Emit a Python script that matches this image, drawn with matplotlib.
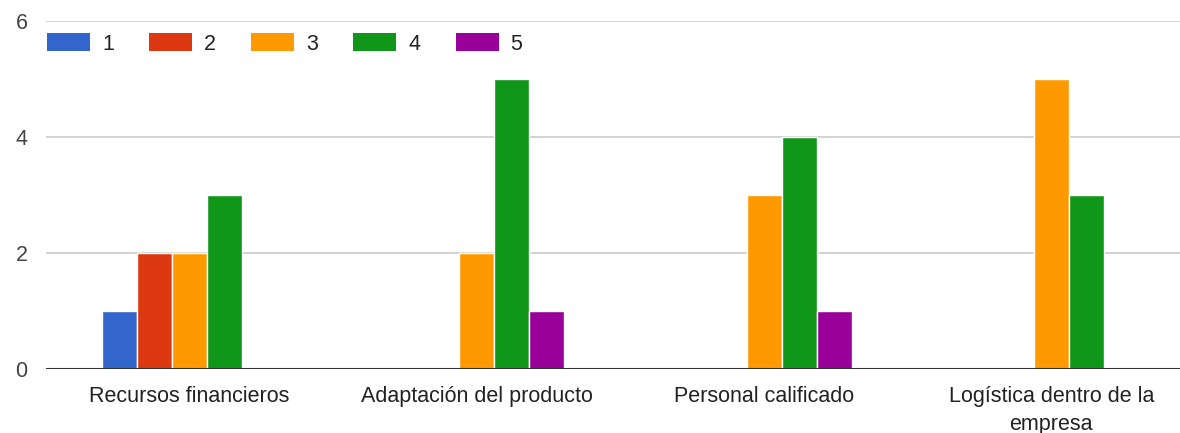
import numpy as np
import matplotlib.pyplot as plt
from matplotlib.patches import Patch

plt.rcParams['font.family'] = ['Liberation Sans', 'DejaVu Sans']

# respuestas por factor (escala 1-5)
categorias = ["Recursos financieros", "Adaptación del producto",
              "Personal calificado", "Logística dentro de la\nempresa"]
niveles = ["1", "2", "3", "4", "5"]
conteos = {
    "1": [1, 0, 0, 0],
    "2": [2, 0, 0, 0],
    "3": [2, 2, 3, 5],
    "4": [3, 5, 4, 3],
    "5": [0, 1, 1, 0],
}
colores = ["#3366cc", "#dc3912", "#ff9900", "#109618", "#990099"]

W, H = 1180, 433
fs = 15.5
fig = plt.figure(figsize=(W / 100, H / 100), dpi=100)
# plot area runs a little past the right edge
ax = fig.add_axes([46 / W, 64 / H, 1149 / W, 348 / H])

x = np.arange(len(categorias))
ancho = 0.122
for i, (nivel, color) in enumerate(zip(niveles, colores)):
    vals = np.array(conteos[nivel])
    pos = x + (i - 2) * ancho
    mask = vals > 0
    ax.bar(pos[mask], vals[mask], width=ancho, color=color,
           edgecolor="white", linewidth=1, zorder=3)

ax.set_xlim(-0.5, len(categorias) - 0.5)
ax.set_ylim(0, 6)
ax.set_yticks([0, 2, 4, 6])
ax.grid(axis="y", color="#cccccc", linewidth=1.2, zorder=0)
ax.axhline(0, color="#333333", linewidth=1.5, zorder=4)
for s in ax.spines.values():
    s.set_visible(False)

ax.set_xticks(x)
ax.set_xticklabels(categorias, fontsize=fs, color="#222222", linespacing=1.45)
ax.tick_params(axis="x", length=0, pad=12)
ax.tick_params(axis="y", length=0, pad=22, labelsize=fs, labelcolor="#444444")
for lbl in ax.get_yticklabels():
    lbl.set_horizontalalignment("left")

handles = [Patch(facecolor=c, edgecolor="none") for c in colores]
fig.legend(handles, niveles, loc="upper left", bbox_to_anchor=(47 / W, 1 - 33 / H),
           ncol=5, frameon=False, fontsize=fs, handlelength=2.0, handleheight=0.93,
           handletextpad=0.56, columnspacing=1.63, borderpad=0, borderaxespad=0,
           labelcolor="#222222")

fig.savefig("out.png", dpi=100, facecolor="white")
